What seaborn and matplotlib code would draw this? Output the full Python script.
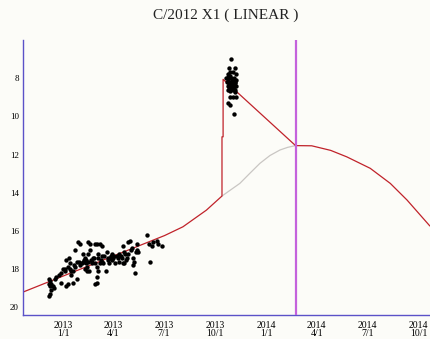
import numpy as np
import pandas as pd
import matplotlib
matplotlib.use("Agg")
import matplotlib.pyplot as plt
import matplotlib.dates as mdates
import seaborn as sns

# ---------------- data ----------------
title = "C/2012 X1 ( LINEAR )"
epoch = "2013-01-01"          # day offsets below are counted from this date

# observations, pre-outburst (day offset, magnitude)
obs_day = [-25, -23, -25, -21, -24, -19, -17, -21, -24, -26, -14, -12,
           -7, -3, 0, 3, -3, 6, 9, 3, 6, 10,
           15, 18, 21, 15, 24, 27, 30, 21, 25, 17,
           36, 39, 36, 41, 43, 47, 39, 42, 45, 49, 48, 45, 41, 51,
           57, 60, 66, 69, 54, 57, 60, 63, 60, 60, 58, 66, 69, 63, 72, 77,
           78, 81, 84, 87, 90, 93, 96, 83,
           101, 105, 108, 111, 113, 117, 114, 101, 109, 107,
           120, 123, 126, 129, 132, 133, 135, 125, 127,
           150, 154, 156, 159, 162, 168, 171, 177,
           8, 12, 20, 28, 33, 38, 44, 50, 55, 62, 68, 74, 80, 86, 92, 98,
           104, 110, 116, 122, 130, 12, 30, 52, 70, 88]
obs_mag = [18.5, 18.6, 18.8, 18.8, 18.9, 18.9, 19.0, 19.1, 19.3, 19.4, 18.5, 18.4,
           18.3, 18.2, 18.0, 18.0, 18.7, 18.9, 18.8, 18.1, 17.5, 17.4,
           18.1, 18.1, 17.9, 18.3, 17.6, 16.6, 16.7, 17.0, 18.5, 18.7,
           17.2, 17.4, 17.6, 17.7, 17.9, 18.1, 18.0, 18.1, 16.6, 16.7, 17.0, 17.2, 17.5, 17.7,
           16.7, 16.7, 16.7, 16.8, 17.4, 17.7, 17.9, 18.1, 18.4, 18.7, 18.8, 17.7, 17.3, 17.2, 17.7, 18.1,
           17.1, 17.5, 17.4, 17.2, 17.4, 17.7, 17.3, 17.7,
           17.2, 17.4, 16.8, 17.2, 17.5, 16.6, 17.4, 17.6, 17.7, 17.7,
           16.5, 16.9, 17.4, 18.2, 16.7, 17.0, 17.1, 17.8, 17.6,
           16.2, 16.7, 17.6, 16.8, 16.6, 16.5, 16.7, 16.8,
           17.9, 17.7, 17.8, 17.6, 17.7, 17.5, 17.6, 17.5, 17.4, 17.4, 17.5, 17.3, 17.4, 17.3, 17.3, 17.4,
           17.3, 17.1, 17.2, 17.0, 17.1, 18.0, 17.8, 17.6, 17.6, 17.5]

# observations during the outburst
burst_day = [301, 298, 308, 299, 305, 296, 310,
             293, 295, 297, 299, 301, 303, 305, 307, 309, 311,
             294, 296, 298, 300, 302, 304, 306, 308, 310,
             295, 297, 299, 301, 303, 305, 307, 309,
             296, 300, 304, 308,
             299, 305, 310, 296, 299, 307]
burst_mag = [7.0, 7.45, 7.45, 7.7, 7.7, 7.8, 7.8,
             8.0, 7.95, 8.0, 7.9, 8.0, 8.05, 8.1, 8.0, 8.2, 8.1,
             8.2, 8.15, 8.3, 8.25, 8.2, 8.3, 8.35, 8.25, 8.4,
             8.4, 8.45, 8.5, 8.4, 8.55, 8.5, 8.45, 8.6,
             8.6, 8.65, 8.6, 8.7,
             9.0, 9.0, 9.0, 9.3, 9.4, 9.85]

# predicted light curve (red): before outburst, outburst jump, fade, after perihelion
pred_day = [-72, 0, 92, 182, 215, 257, 285, 285, 287, 287, 417,
            446, 480, 509, 551, 587, 617, 658]
pred_mag = [19.2, 18.36, 17.29, 16.24, 15.78, 14.91, 14.17, 11.07, 11.07, 8.06, 11.53,
            11.54, 11.78, 12.12, 12.72, 13.51, 14.38, 15.74]

# undisturbed light curve (grey) between outburst and perihelion
base_day = [285, 300, 317, 335, 353, 371, 389, 403, 417]
base_mag = [14.17, 13.86, 13.51, 12.98, 12.46, 12.05, 11.76, 11.62, 11.53]

perihelion = "2014-02-22"

tick_dates = ["2013-01-01", "2013-04-01", "2013-07-01", "2013-10-01",
              "2014-01-01", "2014-04-01", "2014-07-01", "2014-10-01"]
tick_labels = ["2013\n1/1", "2013\n4/1", "2013\n7/1", "2013\n10/1",
               "2014\n1/1", "2014\n4/1", "2014\n7/1", "2014\n10/1"]
y_ticks = [8, 10, 12, 14, 16, 18, 20]

# ---------------- build frames ----------------
t0 = pd.Timestamp(epoch)
def to_dates(days):
    return t0 + pd.to_timedelta(days, unit="D")

obs = pd.DataFrame({"date": to_dates(obs_day + burst_day),
                    "mag": obs_mag + burst_mag})
pred = pd.DataFrame({"date": to_dates(pred_day), "mag": pred_mag})
base = pd.DataFrame({"date": to_dates(base_day), "mag": base_mag})

# ---------------- draw ----------------
sns.set_theme(style="white")
plt.rcParams["font.family"] = ["Liberation Serif", "DejaVu Serif"]

bg = "#fcfcf8"
axis_col = "#5b52c8"

fig = plt.figure(figsize=(4.31, 3.39), dpi=100, facecolor=bg)
ax = fig.add_axes([23 / 431, 1 - 315 / 339, 408 / 431, 275 / 339])
ax.set_facecolor(bg)

sns.lineplot(data=base, x="date", y="mag", ax=ax, color="#c9c6c3",
             linewidth=0.9, sort=False, estimator=None)
sns.lineplot(data=pred, x="date", y="mag", ax=ax, color="#c0222a",
             linewidth=0.9, sort=False, estimator=None)
sns.scatterplot(data=obs, x="date", y="mag", ax=ax, color="black",
                s=10, linewidth=0, zorder=3)
ax.axvline(pd.Timestamp(perihelion), color="#c462dc", linewidth=1.6, zorder=4)

ax.set_xlim(pd.Timestamp("2012-10-21"), pd.Timestamp("2014-10-23"))
ax.set_ylim(20.4, 6.0)

ax.set_xticks([pd.Timestamp(d) for d in tick_dates])
ax.set_xticklabels(tick_labels, fontsize=7, linespacing=0.95)
ax.set_yticks(y_ticks)
ax.set_yticklabels([str(v) for v in y_ticks], fontsize=6.5)
ax.set_xlabel("")
ax.set_ylabel("")

for s in ["top", "right"]:
    ax.spines[s].set_visible(False)
for s in ["left", "bottom"]:
    ax.spines[s].set_color(axis_col)
    ax.spines[s].set_linewidth(1.0)
ax.tick_params(axis="both", direction="in", colors=axis_col, labelcolor="black",
               length=6, width=1.0, pad=3)
ax.tick_params(axis="x", length=3.5, pad=4)
ax.grid(False)

fig.text(226 / 431, 1 - 15 / 339, title, ha="center", va="center",
         fontsize=11, color="#222222")

fig.savefig("out.png", dpi=100, facecolor=bg)
